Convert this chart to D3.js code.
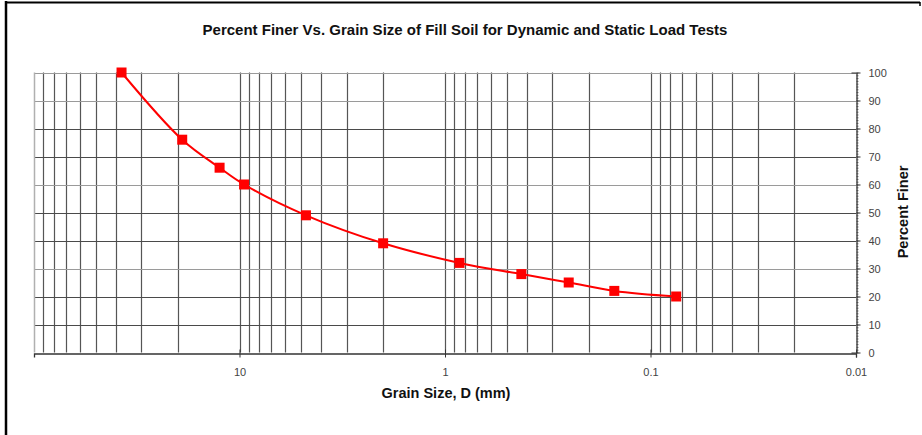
<!DOCTYPE html>
<html>
<head>
<meta charset="utf-8">
<script src="https://cdn.jsdelivr.net/npm/d3@7"></script>
<style>
  html, body { margin: 0; padding: 0; background: #fff; }
  svg { display: block; font-family: "Liberation Sans", Arial, sans-serif; }
</style>
</head>
<body>
<svg id="chart" width="922" height="435"></svg>
<script>
// Sieve analysis of the fill soil
const grainSizes = [37.5, 19.0, 12.5, 9.5, 4.75, 2.0, 0.85, 0.425, 0.25, 0.15, 0.075];
const percentFiner = [100, 76, 66, 60, 49, 39, 32, 28, 25, 22, 20];
const xTickValues = [10, 1, 0.1, 0.01];
const xTickLabels = ["10", "1", "0.1", "0.01"];
const yTickValues = [0, 10, 20, 30, 40, 50, 60, 70, 80, 90, 100];

const titleText = "Percent Finer Vs. Grain Size of Fill Soil for Dynamic and Static Load Tests";
const xTitle = "Grain Size, D (mm)";
const yTitle = "Percent Finer";

const svg = d3.select("#chart");
const plotLeft = 34, plotRight = 856, plotTop = 72.5, plotBottom = 352.5;

// Outer frame (top and left edges)
svg.append("line").attr("x1", 6).attr("x2", 920).attr("y1", 2.5).attr("y2", 2.5)
  .attr("stroke", "#000").attr("stroke-width", 2);
svg.append("line").attr("x1", 920).attr("x2", 920).attr("y1", 2).attr("y2", 6)
  .attr("stroke", "#000").attr("stroke-width", 1.5);
svg.append("line").attr("x1", 6).attr("x2", 6).attr("y1", 1).attr("y2", 435)
  .attr("stroke", "#000").attr("stroke-width", 2.5);

// Reversed log scale: coarse grains on the left
const x = d3.scaleLog().domain([100, 0.01]).range([plotLeft, plotRight]);
const y = d3.scaleLinear().domain([0, 100]).range([plotBottom, plotTop]);

const g = svg.append("g");

// Vertical grid at every 1..9 multiple of each decade
const minorX = [];
[0.01, 0.1, 1, 10].forEach(d => { for (let k = 1; k <= 9; k++) minorX.push(+(d * k).toPrecision(3)); });
g.selectAll("line.vgrid").data(minorX.filter(v => v > 0.01 && v < 100)).join("line")
  .attr("class", "vgrid")
  .attr("x1", d => Math.round(x(d)) + 0.5).attr("x2", d => Math.round(x(d)) + 0.5)
  .attr("y1", plotTop).attr("y2", plotBottom)
  .attr("stroke", "#555").attr("stroke-width", 1.2);

// Horizontal grid
g.selectAll("line.hgrid").data(yTickValues.filter(v => v > 0)).join("line")
  .attr("class", "hgrid")
  .attr("x1", plotLeft).attr("x2", plotRight)
  .attr("y1", d => Math.round(y(d)) + 0.5).attr("y2", d => Math.round(y(d)) + 0.5)
  .attr("stroke", d => (d % 30 === 0 || d === 100) ? "#9a9a9a" : "#4a4a4a").attr("stroke-width", 1.2);

// Left edge of plot area
g.append("line").attr("x1", plotLeft + 0.5).attr("x2", plotLeft + 0.5).attr("y1", plotTop).attr("y2", plotBottom)
  .attr("stroke", "#b0b0b0").attr("stroke-width", 1.5);

// Bottom axis
const xAxis = d3.axisBottom(x).tickValues(xTickValues)
  .tickFormat((d, i) => xTickLabels[i]).tickSize(4).tickPadding(11);
const xg = svg.append("g").attr("transform", `translate(0,${Math.round(plotBottom) + 0.5})`).call(xAxis);
xg.select(".domain").attr("stroke", "#333").attr("stroke-width", 1.3);
xg.selectAll(".tick line").attr("stroke", "#333").attr("y1", -4);
xg.selectAll(".tick text").attr("font-size", 11).attr("fill", "#444")
  .attr("font-family", "Liberation Sans, Arial, sans-serif");

// Right axis with fine minor ticks
const yMinor = d3.range(0, 101, 1);
const ymg = svg.append("g").attr("transform", `translate(${plotRight + 0.5},0)`)
  .call(d3.axisRight(y).tickValues(yMinor).tickFormat("").tickSize(2).tickSizeOuter(0));
ymg.select(".domain").remove();
ymg.selectAll(".tick line").attr("stroke", "#777");

const yAxis = d3.axisRight(y).tickValues(yTickValues).tickSize(4).tickPadding(8).tickSizeOuter(0);
const yg = svg.append("g").attr("transform", `translate(${plotRight + 0.5},0)`).call(yAxis);
yg.select(".domain").attr("stroke", "#333").attr("stroke-width", 1.3);
yg.selectAll(".tick line").attr("stroke", "#333").attr("x1", d => (d === 0 || d === 100) ? -5 : 0);
yg.selectAll(".tick text").attr("font-size", 11).attr("fill", "#444")
  .attr("font-family", "Liberation Sans, Arial, sans-serif");

// Gradation curve
const pts = grainSizes.map((d, i) => [x(d), y(percentFiner[i])]);
svg.append("path")
  .attr("d", d3.line().curve(d3.curveCatmullRom.alpha(0.5))(pts))
  .attr("fill", "none").attr("stroke", "#ff0000").attr("stroke-width", 2);

const ms = 10;
svg.selectAll("rect.pt").data(pts).join("rect")
  .attr("class", "pt")
  .attr("x", d => d[0] - ms / 2).attr("y", d => d[1] - ms / 2)
  .attr("width", ms).attr("height", ms)
  .attr("fill", "#ff0000");

// Titles
svg.append("text").attr("x", 465).attr("y", 35).attr("text-anchor", "middle")
  .attr("font-size", 15).attr("font-weight", "bold").attr("fill", "#111")
  .text(titleText);
svg.append("text").attr("x", 446).attr("y", 398).attr("text-anchor", "middle")
  .attr("font-size", 14.5).attr("font-weight", "bold").attr("fill", "#111")
  .text(xTitle);
svg.append("text").attr("transform", "translate(908,212) rotate(-90)").attr("text-anchor", "middle")
  .attr("font-size", 14.5).attr("font-weight", "bold").attr("fill", "#111")
  .text(yTitle);
</script>
</body>
</html>
